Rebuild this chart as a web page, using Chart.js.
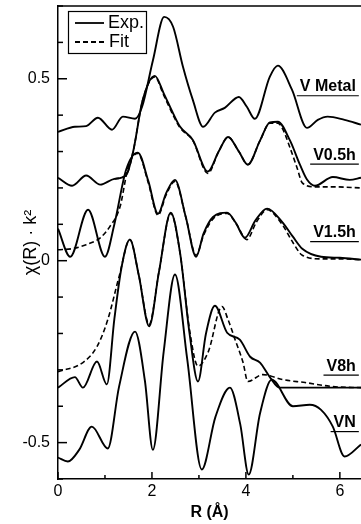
<!DOCTYPE html>
<html>
<head>
<meta charset="utf-8">
<script src="https://cdn.jsdelivr.net/npm/chart.js@4.4.1/dist/chart.umd.min.js"></script>
<style>
  html, body { margin: 0; padding: 0; background: #fff; }
  #wrap { width: 361px; height: 524px; }
</style>
</head>
<body>
<div id="wrap"><canvas id="myChart" width="361" height="524"></canvas></div>
<script>
// V metal
const metalR = [0, 0.36, 0.6, 0.85, 1.15, 1.38, 1.64, 1.79, 2.02, 2.26, 2.45, 2.66, 2.87, 3.09, 3.34, 3.55, 3.85, 4.02, 4.19, 4.51, 4.68, 4.98, 5.3, 5.53, 5.74, 6.1, 6.45];
const metalExp = [0.354, 0.368, 0.37, 0.393, 0.36, 0.396, 0.39, 0.423, 0.55, 0.67, 0.643, 0.533, 0.442, 0.368, 0.407, 0.42, 0.45, 0.423, 0.39, 0.506, 0.536, 0.47, 0.365, 0.387, 0.396, 0.387, 0.374];

// V0.5h
const v05R = [0, 0.3, 0.6, 0.9, 1.2, 1.45, 1.6, 1.8, 2.06, 2.25, 2.45, 2.6, 2.87, 3.19, 3.42, 3.62, 3.85, 4.04, 4.3, 4.51, 4.68, 4.94, 5.15, 5.3, 5.47, 5.85, 6.21, 6.45];
const v05Exp = [0.228, 0.206, 0.234, 0.209, 0.225, 0.235, 0.3, 0.44, 0.508, 0.46, 0.405, 0.368, 0.332, 0.245, 0.3, 0.34, 0.3, 0.264, 0.33, 0.38, 0.382, 0.33, 0.264, 0.223, 0.206, 0.23, 0.222, 0.228];
const v05FitR = [1.2, 1.45, 1.6, 1.8, 2.06, 2.25, 2.45, 2.6, 2.87, 3.19, 3.42, 3.62, 3.85, 4.04, 4.3, 4.51, 4.68, 4.79, 4.94, 5.09, 5.2, 5.47, 5.85, 6.45];
const v05Fit = [0.225, 0.235, 0.3, 0.44, 0.505, 0.455, 0.4, 0.365, 0.33, 0.24, 0.3, 0.34, 0.3, 0.264, 0.33, 0.378, 0.378, 0.36, 0.31, 0.255, 0.214, 0.203, 0.203, 0.2];

// V1.5h
const v15R = [0, 0.26, 0.64, 1.0, 1.2, 1.45, 1.7, 1.92, 2.13, 2.3, 2.49, 2.72, 2.94, 3.1, 3.3, 3.6, 3.78, 3.98, 4.2, 4.45, 4.77, 5.0, 5.2, 5.6, 6.0, 6.45];
const v15Exp = [0.088, 0.011, 0.14, 0.011, 0.1, 0.25, 0.297, 0.22, 0.129, 0.185, 0.222, 0.12, 0.011, 0.075, 0.12, 0.132, 0.105, 0.063, 0.11, 0.143, 0.107, 0.066, 0.033, 0.011, 0.008, 0.003];
const v15FitR = [0, 0.3, 0.6, 0.9, 1.1, 1.32, 1.5, 1.7, 1.92, 2.13, 2.3, 2.49, 2.72, 2.94, 3.1, 3.3, 3.6, 3.8, 4.02, 4.22, 4.45, 4.77, 5.0, 5.2, 5.6, 6.0, 6.45];
const v15Fit = [0.03, 0.033, 0.044, 0.063, 0.093, 0.148, 0.26, 0.295, 0.215, 0.125, 0.18, 0.218, 0.12, 0.015, 0.07, 0.115, 0.13, 0.1, 0.058, 0.105, 0.14, 0.1, 0.05, 0.015, 0.005, 0.005, 0.003];

// V8h
const v8R = [0, 0.36, 0.53, 0.83, 1.04, 1.2, 1.35, 1.53, 1.72, 1.94, 2.15, 2.4, 2.6, 2.8, 2.98, 3.15, 3.34, 3.6, 3.87, 4.09, 4.3, 4.51, 4.72, 5.2, 6.45];
const v8Exp = [-0.349, -0.32, -0.349, -0.277, -0.34, -0.16, -0.02, 0.058, -0.04, -0.18, -0.03, 0.132, 0.02, -0.2, -0.332, -0.2, -0.124, -0.198, -0.217, -0.264, -0.28, -0.32, -0.349, -0.349, -0.349];
const v8FitR = [0, 0.53, 0.83, 1.06, 1.3, 1.53, 1.72, 1.94, 2.15, 2.4, 2.6, 2.8, 2.98, 3.2, 3.49, 3.62, 3.77, 3.94, 4.04, 4.36, 4.79, 5.26, 5.85, 6.45];
const v8Fit = [-0.305, -0.28, -0.236, -0.162, -0.044, 0.058, -0.04, -0.175, -0.03, 0.13, 0.02, -0.19, -0.29, -0.25, -0.126, -0.162, -0.217, -0.28, -0.332, -0.313, -0.327, -0.335, -0.346, -0.349];

// VN
const vnR = [0, 0.21, 0.45, 0.72, 1.06, 1.3, 1.64, 1.85, 2.02, 2.25, 2.49, 2.75, 3.06, 3.35, 3.66, 3.88, 4.06, 4.3, 4.55, 5.0, 5.36, 5.6, 5.85, 6.1, 6.45];
const vnExp = [-0.541, -0.552, -0.52, -0.456, -0.516, -0.346, -0.195, -0.33, -0.52, -0.25, -0.038, -0.27, -0.574, -0.43, -0.349, -0.45, -0.588, -0.42, -0.327, -0.4, -0.396, -0.41, -0.456, -0.538, -0.505];

// tick values and labels
const xTickValues = [0, 1, 2, 3, 4, 5, 6];
const xTickLabels = { 0: "0", 2: "2", 4: "4", 6: "6" };
const yTickValues = [-0.6, -0.5, -0.4, -0.3, -0.2, -0.1, 0, 0.1, 0.2, 0.3, 0.4, 0.5, 0.6, 0.7];
const yTickLabels = { "-0.5": "-0.5", "0": "0", "0.5": "0.5" };

// sample labels on the right
const sampleNames = ["V Metal", "V0.5h", "V1.5h", "V8h", "VN"];
const sampleLabelY = [0.478, 0.29, 0.077, -0.29, -0.445];

const legendNames = ["Exp.", "Fit"];

function pts(xs, ys) {
  return xs.map((x, i) => ({ x: x, y: ys[i] }));
}

function expSet(xs, ys) {
  return {
    data: pts(xs, ys),
    borderColor: "#000",
    borderWidth: 1.9,
    pointRadius: 0,
    fill: false,
    cubicInterpolationMode: "monotone",
  };
}

function fitSet(xs, ys) {
  return {
    data: pts(xs, ys),
    borderColor: "#000",
    borderWidth: 1.6,
    borderDash: [5, 3],
    pointRadius: 0,
    fill: false,
    cubicInterpolationMode: "monotone",
  };
}

const fontName = "'Liberation Sans', Arial, Helvetica, sans-serif";

// frame top, inner ticks, legend box and sample names
const extras = {
  id: "extras",
  afterDraw(chart) {
    const { ctx, chartArea: a, scales: { x, y } } = chart;
    ctx.save();
    ctx.strokeStyle = "#000";
    ctx.fillStyle = "#000";
    ctx.lineWidth = 1.5;
    ctx.setLineDash([]);

    ctx.beginPath();
    ctx.moveTo(a.left, a.top);
    ctx.lineTo(a.right, a.top);
    ctx.stroke();

    xTickValues.forEach((v) => {
      const px = x.getPixelForValue(v);
      const len = xTickLabels[v] !== undefined ? 7 : 4;
      ctx.beginPath();
      ctx.moveTo(px, a.bottom);
      ctx.lineTo(px, a.bottom - len);
      ctx.stroke();
    });
    yTickValues.forEach((v) => {
      const py = y.getPixelForValue(v);
      const len = yTickLabels[String(v)] !== undefined ? 9 : 5;
      ctx.beginPath();
      ctx.moveTo(a.left, py);
      ctx.lineTo(a.left + len, py);
      ctx.stroke();
    });

    // legend
    ctx.lineWidth = 1.2;
    ctx.strokeRect(68.5, 11.5, 78, 42);
    ctx.lineWidth = 1.8;
    ctx.beginPath();
    ctx.moveTo(75, 23);
    ctx.lineTo(104, 23);
    ctx.stroke();
    ctx.setLineDash([5, 3]);
    ctx.beginPath();
    ctx.moveTo(75, 42);
    ctx.lineTo(104, 42);
    ctx.stroke();
    ctx.setLineDash([]);
    ctx.font = "18px " + fontName;
    ctx.textBaseline = "middle";
    ctx.textAlign = "left";
    ctx.fillText(legendNames[0], 108, 23);
    ctx.fillText(legendNames[1], 109, 42);

    // sample names, underlined
    ctx.font = "bold 16px " + fontName;
    ctx.textAlign = "right";
    const rx = x.getPixelForValue(6.34);
    sampleNames.forEach((name, i) => {
      const py = y.getPixelForValue(sampleLabelY[i]);
      ctx.fillText(name, rx, py);
      const w = ctx.measureText(name).width;
      ctx.lineWidth = 1.2;
      ctx.beginPath();
      ctx.moveTo(rx - w - 3, py + 9);
      ctx.lineTo(rx + 3, py + 9);
      ctx.stroke();
    });
    ctx.restore();
  },
};

const ctx = document.getElementById("myChart").getContext("2d");
const myChart = new Chart(ctx, {
  type: "line",
  data: {
    datasets: [
      expSet(metalR, metalExp),
      expSet(v05R, v05Exp),
      fitSet(v05FitR, v05Fit),
      expSet(v15R, v15Exp),
      fitSet(v15FitR, v15Fit),
      expSet(v8R, v8Exp),
      fitSet(v8FitR, v8Fit),
      expSet(vnR, vnExp),
    ],
  },
  options: {
    responsive: false,
    animation: false,
    devicePixelRatio: 1,
    layout: { padding: { top: 6, right: 0, left: 0, bottom: 0 } },
    plugins: {
      legend: { display: false },
      tooltip: { enabled: false },
    },
    scales: {
      x: {
        type: "linear",
        min: 0,
        max: 6.45,
        afterBuildTicks: (s) => { s.ticks = xTickValues.map((v) => ({ value: v })); },
        afterFit: (s) => { s.height = 45; s.paddingLeft = 0; s.paddingRight = 0; },
        grid: { display: false, drawTicks: false },
        border: { display: true, color: "#000", width: 1.5 },
        ticks: {
          padding: 3,
          color: "#000",
          font: { family: fontName, size: 16 },
          maxRotation: 0,
          autoSkip: false,
          callback: (v) => (xTickLabels[v] !== undefined ? xTickLabels[v] : ""),
        },
        title: {
          display: true,
          text: "R (Å)",
          color: "#000",
          font: { family: fontName, size: 16, weight: "bold" },
          padding: { top: 0, bottom: 2 },
        },
      },
      y: {
        type: "linear",
        min: -0.6,
        max: 0.7,
        afterBuildTicks: (s) => { s.ticks = yTickValues.map((v) => ({ value: v })); },
        afterFit: (s) => { s.width = 58; s.paddingTop = 0; s.paddingBottom = 0; },
        grid: { display: false, drawTicks: false },
        border: { display: true, color: "#000", width: 1.5 },
        ticks: {
          padding: 8,
          color: "#000",
          font: { family: fontName, size: 16 },
          autoSkip: false,
          callback: (v) => (yTickLabels[String(v)] !== undefined ? yTickLabels[String(v)] : ""),
        },
        title: {
          display: true,
          text: "χ(R) · k²",
          color: "#000",
          font: { family: fontName, size: 18 },
          padding: { top: 20, bottom: 0 },
        },
      },
    },
  },
  plugins: [extras],
});
</script>
</body>
</html>
